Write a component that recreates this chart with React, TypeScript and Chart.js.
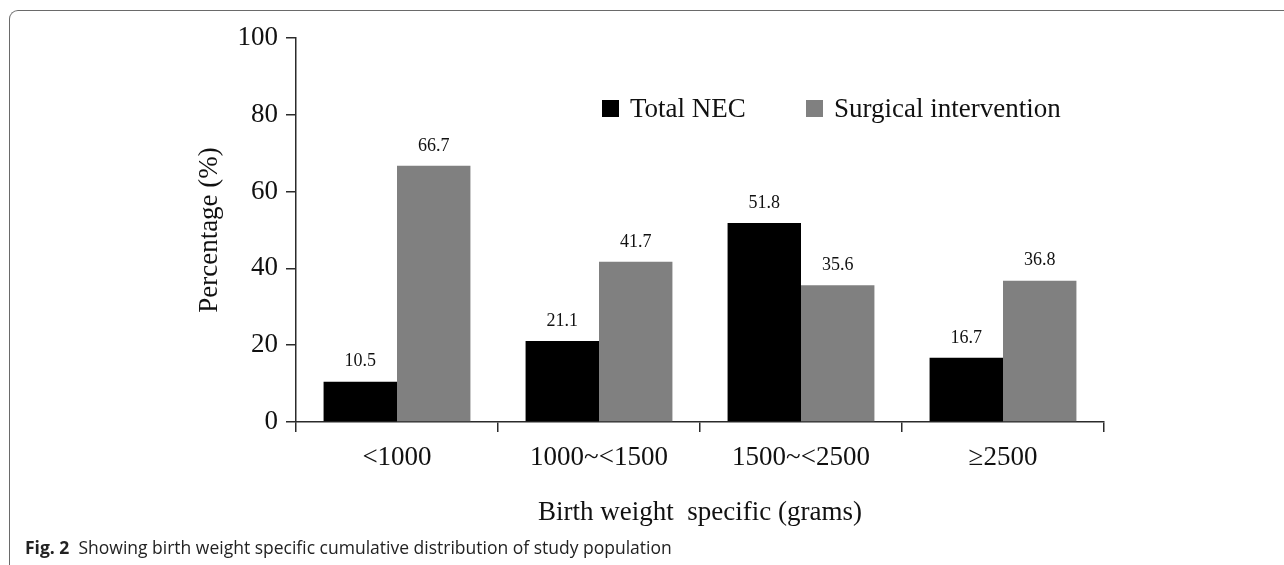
import React, { useEffect, useRef } from "react";
import { Chart, registerables } from "chart.js";

Chart.register(...registerables);

// ---- Data ----
const categories = ["<1000", "1000~<1500", "1500~<2500", "≥2500"];
const seriesNames = ["Total NEC", "Surgical intervention"];
const totalNEC = [10.5, 21.1, 51.8, 16.7];
const surgical = [66.7, 41.7, 35.6, 36.8];
const yTickValues = [0, 20, 40, 60, 80, 100];
const xTitle = "Birth weight  specific (grams)";
const yTitle = "Percentage (%)";

// ---- Styles ----
const SERIF = "'Liberation Serif', 'Times New Roman', Times, serif";
const seriesColors = ["#000000", "#808080"];
const axisColor = "#2b2b2b";

const valueLabelPlugin = {
  id: "valueLabels",
  afterDatasetsDraw(chart: any) {
    const ctx = chart.ctx;
    ctx.save();
    ctx.font = `18px ${SERIF}`;
    ctx.fillStyle = "#111";
    ctx.textAlign = "center";
    ctx.textBaseline = "middle";
    chart.data.datasets.forEach((ds: any, di: number) => {
      const meta = chart.getDatasetMeta(di);
      meta.data.forEach((bar: any, i: number) => {
        ctx.fillText(Number(ds.data[i]).toFixed(1), bar.x, bar.y - 20);
      });
    });
    ctx.restore();
  },
};

const customLegendPlugin = {
  id: "customLegend",
  afterDraw(chart: any) {
    const ctx = chart.ctx;
    const baseY = 117;
    const box = 17;
    const items = [
      { boxX: 602, textX: 630 },
      { boxX: 806, textX: 834 },
    ];
    ctx.save();
    ctx.font = `27px ${SERIF}`;
    ctx.textBaseline = "alphabetic";
    ctx.textAlign = "left";
    chart.data.datasets.forEach((ds: any, i: number) => {
      const it = items[i];
      ctx.fillStyle = ds.backgroundColor;
      ctx.fillRect(it.boxX, baseY - box, box, box);
      ctx.fillStyle = "#111";
      ctx.fillText(ds.label, it.textX, baseY);
    });
    ctx.restore();
  },
};

function BarChart() {
  const ref = useRef<HTMLCanvasElement | null>(null);
  useEffect(() => {
    if (!ref.current) return;
    const chart = new Chart(ref.current, {
      type: "bar",
      data: {
        labels: categories,
        datasets: [
          {
            label: seriesNames[0],
            data: totalNEC,
            backgroundColor: seriesColors[0],
            categoryPercentage: 0.727,
            barPercentage: 1.0,
          },
          {
            label: seriesNames[1],
            data: surgical,
            backgroundColor: seriesColors[1],
            categoryPercentage: 0.727,
            barPercentage: 1.0,
          },
        ],
      },
      options: {
        responsive: false,
        animation: false,
        devicePixelRatio: 1,
        layout: { padding: { left: 190, top: 38, right: 180, bottom: 32 } },
        plugins: {
          legend: { display: false },
          tooltip: { enabled: false },
        },
        scales: {
          x: {
            afterFit: (s: any) => {
              s.height = 111;
            },
            grid: {
              offset: true,
              drawOnChartArea: false,
              drawTicks: true,
              tickLength: 10,
              color: axisColor,
              lineWidth: 1.5,
            },
            border: { display: true, color: axisColor, width: 1.5 },
            ticks: {
              padding: 10,
              color: "#111",
              font: { family: SERIF, size: 27 },
              maxRotation: 0,
              autoSkip: false,
            },
            title: {
              display: true,
              text: xTitle,
              color: "#111",
              font: { family: SERIF, size: 27 },
              padding: { top: 4, bottom: 4 },
            },
          },
          y: {
            min: yTickValues[0],
            max: yTickValues[yTickValues.length - 1],
            afterFit: (s: any) => {
              s.width = 106;
            },
            afterBuildTicks: (s: any) => {
              s.ticks = yTickValues.map((v) => ({ value: v }));
            },
            grid: {
              drawOnChartArea: false,
              drawTicks: true,
              tickLength: 10,
              color: axisColor,
              lineWidth: 1.5,
            },
            border: { display: true, color: axisColor, width: 1.5 },
            ticks: {
              padding: 8,
              color: "#111",
              font: { family: SERIF, size: 27 },
            },
            title: {
              display: true,
              text: yTitle,
              color: "#111",
              font: { family: SERIF, size: 27 },
              padding: { top: 4, bottom: 4 },
            },
          },
        },
      },
      plugins: [valueLabelPlugin, customLegendPlugin],
    });
    return () => chart.destroy();
  }, []);
  return (
    <canvas
      ref={ref}
      width={1284}
      height={565}
      style={{ position: "absolute", left: 0, top: 0, width: 1284, height: 565 }}
    />
  );
}

export default function App() {
  useEffect(() => {
    document.body.style.margin = "0";
  }, []);
  return (
    <div
      style={{
        position: "relative",
        width: 1284,
        height: 565,
        overflow: "hidden",
        background: "#fff",
      }}
    >
      <div
        style={{
          position: "absolute",
          left: 9,
          top: 10,
          width: 1400,
          height: 700,
          borderTop: "1.5px solid #6a6a6a",
          borderLeft: "1.5px solid #6a6a6a",
          borderTopLeftRadius: 9,
        }}
      />
      <BarChart />
      <div
        style={{
          position: "absolute",
          left: 25,
          top: 535,
          fontFamily: "'Open Sans', 'Noto Sans', sans-serif",
          fontSize: 17.5,
          color: "#222",
          whiteSpace: "pre",
          lineHeight: "24px",
        }}
      >
        <b>Fig. 2</b>
        {"  Showing birth weight specific cumulative distribution of study population"}
      </div>
    </div>
  );
}
